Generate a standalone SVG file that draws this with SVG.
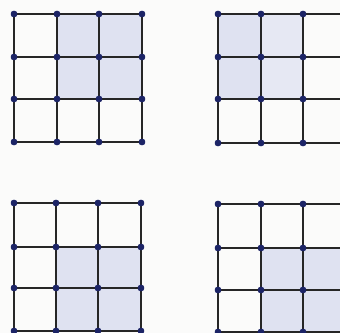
<svg xmlns="http://www.w3.org/2000/svg" width="340" height="333" viewBox="0 0 340 333">
<style>
.bg{fill:#fbfbfa}
.cell{fill:#dfe2f1}
.cell2{fill:#e6e8f3}
.ln{stroke:#262626;stroke-width:2;fill:none;stroke-linecap:square}
.dot{fill:#1c2466}
</style>
<defs>
<circle id="d" r="3.2" class="dot"/>
</defs>
<rect class="bg" x="0" y="0" width="340" height="333"/>

<g id="grid1">
<rect class="cell" x="57" y="14" width="85" height="85"/>
<g class="ln">
<path d="M14 14H142M14 57H142M14 99H142M14 142H142M14 14V142M57 14V142M99 14V142M142 14V142"/>
</g>
<g>
<use href="#d" x="14" y="14"/><use href="#d" x="57" y="14"/><use href="#d" x="99" y="14"/><use href="#d" x="142" y="14"/>
<use href="#d" x="14" y="57"/><use href="#d" x="57" y="57"/><use href="#d" x="99" y="57"/><use href="#d" x="142" y="57"/>
<use href="#d" x="14" y="99"/><use href="#d" x="57" y="99"/><use href="#d" x="99" y="99"/><use href="#d" x="142" y="99"/>
<use href="#d" x="14" y="142"/><use href="#d" x="57" y="142"/><use href="#d" x="99" y="142"/><use href="#d" x="142" y="142"/>
</g>
</g>

<g id="grid2">
<rect class="cell" x="218" y="14" width="43" height="85"/>
<rect class="cell2" x="261" y="14" width="42" height="85"/>
<g class="ln">
<path d="M218 14H342M218 57H342M218 99H342M218 143H342M218 14V143M261 14V143M303 14V143"/>
</g>
<g>
<use href="#d" x="218" y="14"/><use href="#d" x="261" y="14"/><use href="#d" x="303" y="14"/>
<use href="#d" x="218" y="57"/><use href="#d" x="261" y="57"/><use href="#d" x="303" y="57"/>
<use href="#d" x="218" y="99"/><use href="#d" x="261" y="99"/><use href="#d" x="303" y="99"/>
<use href="#d" x="218" y="143"/><use href="#d" x="261" y="143"/><use href="#d" x="303" y="143"/>
</g>
</g>

<g id="grid3">
<rect class="cell" x="56" y="247" width="85" height="84"/>
<g class="ln">
<path d="M14 203H141M14 247H141M14 288H141M14 331H141M14 203V331M56 203V331M98 203V331M141 203V331"/>
</g>
<g>
<use href="#d" x="14" y="203"/><use href="#d" x="56" y="203"/><use href="#d" x="98" y="203"/><use href="#d" x="141" y="203"/>
<use href="#d" x="14" y="247"/><use href="#d" x="56" y="247"/><use href="#d" x="98" y="247"/><use href="#d" x="141" y="247"/>
<use href="#d" x="14" y="288"/><use href="#d" x="56" y="288"/><use href="#d" x="98" y="288"/><use href="#d" x="141" y="288"/>
<use href="#d" x="14" y="331"/><use href="#d" x="56" y="331"/><use href="#d" x="98" y="331"/><use href="#d" x="141" y="331"/>
</g>
</g>

<g id="grid4">
<rect class="cell" x="261" y="248" width="81" height="84"/>
<g class="ln">
<path d="M218 204H342M218 248H342M218 290H342M218 332H342M218 204V332M261 204V332M303 204V332"/>
</g>
<g>
<use href="#d" x="218" y="204"/><use href="#d" x="261" y="204"/><use href="#d" x="303" y="204"/>
<use href="#d" x="218" y="248"/><use href="#d" x="261" y="248"/><use href="#d" x="303" y="248"/>
<use href="#d" x="218" y="290"/><use href="#d" x="261" y="290"/><use href="#d" x="303" y="290"/>
<use href="#d" x="218" y="332"/><use href="#d" x="261" y="332"/><use href="#d" x="303" y="332"/>
</g>
</g>
</svg>
